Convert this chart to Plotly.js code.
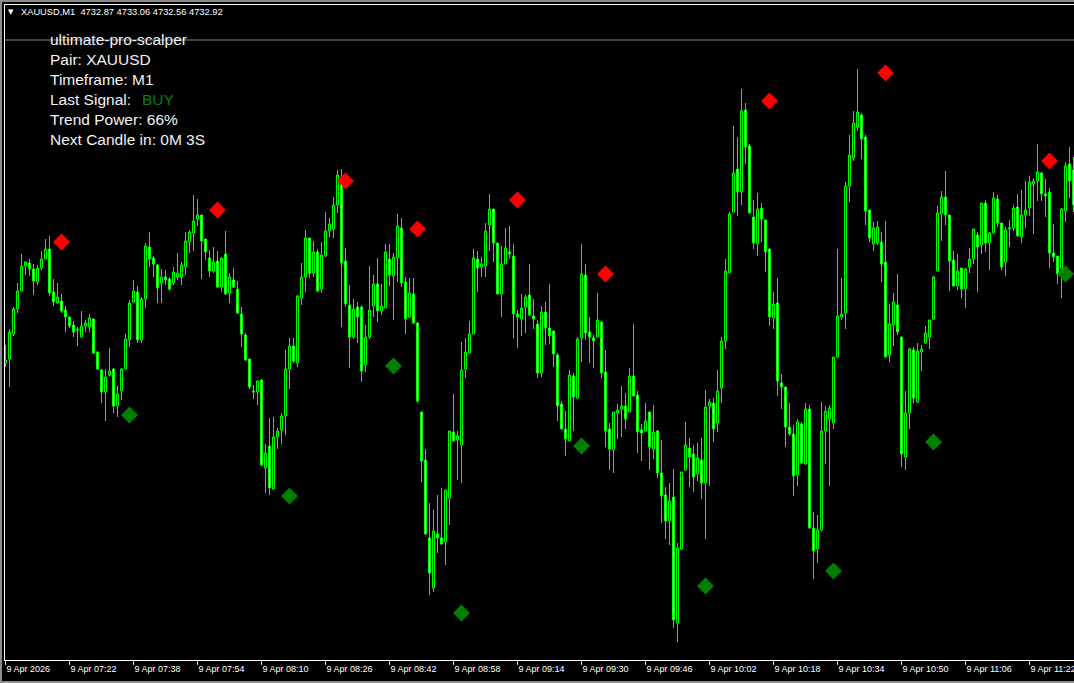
<!DOCTYPE html>
<html><head><meta charset="utf-8">
<script src="https://cdn.plot.ly/plotly-3.0.1.min.js"></script>
<style>
html,body{margin:0;padding:0;background:#000;overflow:hidden}
#wrap{position:relative;width:1074px;height:683px}
#chart{position:absolute;left:0;top:0;width:1074px;height:683px}
.fr{position:absolute;background:#8c8c8c}
</style></head><body>
<div id="wrap"><div id="chart"></div>
<div class="fr" style="left:0;top:0;width:1074px;height:2px"></div>
<div class="fr" style="left:0;top:0;width:2px;height:683px"></div>
<div class="fr" style="left:0;top:681px;width:1074px;height:2px"></div>
</div>
<script>
// ---- data (XAUUSD M1, 9 Apr 2026, bars from 07:06) ----
const open = [
4718.7,4719.1,4721.6,4724.1,4725.9,4728.4,4728.7,4728.1,4726.8,4728.2,
4729.1,4730.1,4725.8,4724.7,4724.9,4724.0,4723.3,4722.5,4722.1,4721.3,
4722.4,4722.3,4723.1,4719.8,4718.0,4715.8,4717.5,4718.1,4714.4,4715.9,
4718.1,4721.0,4724.8,4725.8,4721.0,4725.1,4730.3,4729.2,4728.5,4726.7,
4727.3,4727.1,4726.7,4727.3,4727.3,4728.3,4730.8,4731.7,4733.1,4733.5,
4731.1,4729.2,4727.9,4728.9,4726.3,4729.6,4725.7,4727.0,4726.1,4723.6,
4721.5,4719.1,4715.9,4715.8,4717.0,4708.2,4710.4,4706.1,4711.3,4712.0,
4713.4,4718.1,4720.4,4718.7,4725.2,4727.3,4731.2,4727.7,4729.8,4726.1,
4729.4,4731.9,4732.1,4734.5,4737.0,4728.9,4724.5,4721.3,4724.3,4724.3,
4718.5,4721.3,4724.4,4726.6,4723.9,4724.2,4729.1,4727.4,4729.2,4732.2,
4726.8,4723.3,4725.6,4722.7,4713.8,4709.0,4701.2,4696.2,4701.6,4701.2,
4700.8,4705.2,4711.8,4711.0,4710.5,4718.1,4719.7,4721.6,4729.1,4728.3,
4728.4,4732.5,4734.1,4730.7,4725.6,4728.6,4729.8,4729.4,4723.6,4723.1,
4724.3,4725.5,4723.4,4722.6,4717.7,4723.8,4722.2,4721.9,4719.5,4714.6,
4712.1,4710.9,4717.4,4715.2,4721.2,4727.5,4721.8,4721.2,4721.3,4722.8,
4717.8,4712.1,4710.0,4713.7,4714.1,4714.4,4713.8,4717.4,4715.5,4712.0,
4711.9,4713.8,4710.1,4711.9,4707.7,4705.5,4702.9,4705.3,4692.7,4700.1,
4708.0,4710.2,4709.6,4707.6,4709.0,4706.7,4714.4,4714.7,4712.7,4716.2,
4720.9,4727.7,4733.8,4738.1,4735.8,4744.0,4740.4,4733.3,4730.6,4734.2,
4733.0,4730.1,4723.2,4724.7,4716.7,4716.3,4712.3,4711.6,4707.5,4712.6,
4708.6,4714.1,4702.2,4700.1,4702.0,4711.9,4713.1,4712.7,4719.3,4723.3,
4723.7,4736.4,4739.2,4742.3,4743.5,4741.3,4734.0,4730.6,4730.7,4730.8,
4728.8,4719.5,4722.5,4724.5,4721.3,4709.3,4713.7,4720.0,4714.8,4719.8,
4720.7,4721.3,4723.1,4727.9,4733.6,4735.3,4733.5,4729.0,4726.4,4728.2,
4726.1,4728.3,4729.1,4731.5,4730.5,4734.7,4730.7,4731.7,4735.1,4732.7,
4728.8,4732.1,4732.2,4734.3,4731.3,4733.5,4734.2,4736.6,4736.9,4737.7,
4735.6,4735.8,4729.7,4729.4,4728.1,4733.9,4738.6,4738.0];
const high = [
4720.5,4722.1,4724.3,4726.7,4729.6,4728.9,4729.1,4728.6,4728.5,4729.9,
4731.1,4731.4,4727.1,4726.7,4725.6,4724.4,4723.3,4722.9,4722.3,4723.9,
4723.0,4723.6,4723.1,4719.9,4718.1,4718.1,4720.2,4718.2,4716.4,4718.2,
4721.6,4725.0,4727.0,4726.4,4725.3,4730.7,4731.8,4729.4,4728.6,4728.1,
4728.0,4727.3,4728.3,4729.7,4728.8,4731.8,4732.0,4735.5,4735.1,4733.5,
4731.1,4730.0,4730.3,4729.9,4729.3,4731.9,4727.7,4728.2,4726.9,4724.3,
4721.7,4719.1,4716.5,4717.0,4717.1,4710.6,4713.2,4713.3,4712.2,4713.7,
4720.0,4721.2,4721.2,4725.5,4728.7,4732.0,4731.2,4730.9,4730.1,4730.8,
4733.8,4733.2,4735.3,4738.0,4738.1,4730.2,4726.5,4725.1,4724.8,4724.5,
4722.5,4728.4,4727.5,4729.2,4726.6,4730.6,4730.6,4729.7,4733.6,4733.2,
4727.3,4727.2,4727.2,4722.8,4713.8,4710.1,4704.7,4704.0,4705.5,4706.2,
4706.0,4711.9,4715.6,4711.9,4720.8,4721.2,4722.9,4730.1,4729.9,4729.3,
4732.7,4735.6,4734.1,4730.7,4730.4,4732.2,4732.4,4730.6,4724.0,4725.6,
4725.5,4728.6,4725.1,4723.0,4724.4,4724.8,4726.6,4721.9,4719.7,4714.9,
4713.9,4718.0,4717.7,4721.3,4730.6,4728.6,4723.3,4721.5,4725.7,4722.8,
4720.0,4712.7,4713.8,4714.6,4716.4,4715.7,4718.2,4722.6,4715.9,4712.6,
4714.7,4713.8,4714.5,4712.0,4711.0,4706.3,4706.7,4708.1,4700.7,4707.8,
4712.8,4711.2,4710.5,4710.7,4711.2,4716.0,4715.1,4715.2,4718.0,4721.3,
4729.1,4733.8,4742.4,4741.3,4746.1,4744.7,4740.6,4735.0,4735.7,4734.7,
4733.0,4730.1,4725.8,4727.2,4717.6,4716.3,4714.7,4712.5,4713.1,4712.8,
4714.7,4714.5,4703.8,4703.5,4714.8,4714.4,4714.5,4719.3,4730.1,4727.2,
4736.8,4741.5,4743.9,4748.1,4743.7,4741.5,4734.0,4732.8,4732.9,4731.8,
4732.9,4724.6,4725.7,4727.6,4721.3,4715.9,4720.2,4720.3,4720.7,4720.5,
4722.4,4723.0,4727.4,4734.4,4735.9,4737.9,4733.5,4729.9,4729.6,4728.2,
4728.2,4730.2,4732.1,4731.8,4734.7,4735.0,4731.8,4735.8,4735.5,4732.7,
4732.3,4733.0,4734.5,4735.6,4736.0,4736.9,4737.4,4737.2,4740.6,4737.8,
4737.1,4736.2,4732.6,4729.4,4734.2,4738.8,4740.3,4739.3];
const low = [
4718.3,4716.3,4721.4,4723.7,4725.9,4727.5,4727.4,4725.5,4726.5,4728.0,
4729.1,4725.4,4724.4,4724.7,4723.7,4721.8,4722.2,4721.3,4720.4,4721.3,
4721.8,4721.8,4719.6,4718.0,4714.7,4712.9,4717.4,4713.7,4713.3,4715.0,
4718.0,4720.3,4724.7,4720.7,4720.7,4724.2,4728.3,4727.3,4724.7,4724.7,
4726.5,4725.9,4726.5,4727.0,4726.5,4727.5,4729.7,4729.9,4732.4,4727.1,
4729.0,4727.3,4727.7,4726.2,4725.8,4725.5,4724.7,4726.2,4723.6,4720.3,
4718.9,4716.1,4715.1,4714.5,4708.4,4705.7,4705.5,4706.0,4710.1,4710.6,
4711.5,4716.1,4718.7,4718.3,4724.5,4725.8,4727.2,4727.3,4725.8,4725.7,
4729.3,4731.3,4731.2,4733.7,4722.3,4724.3,4718.2,4721.1,4720.7,4716.8,
4717.8,4721.1,4723.3,4722.8,4723.5,4724.2,4726.4,4723.0,4726.8,4726.3,
4721.6,4723.2,4722.6,4714.7,4706.8,4701.5,4695.5,4695.8,4699.7,4700.5,
4698.5,4702.5,4710.9,4707.0,4706.7,4717.2,4719.6,4721.6,4725.8,4727.3,
4727.3,4729.9,4728.8,4725.6,4723.3,4728.6,4729.1,4721.2,4720.2,4721.4,
4721.7,4723.4,4722.1,4717.2,4717.3,4720.5,4720.6,4718.3,4712.9,4712.1,
4709.4,4710.9,4711.9,4715.1,4718.8,4721.0,4718.7,4718.2,4721.3,4717.2,
4710.3,4708.0,4707.7,4711.1,4711.3,4712.1,4713.8,4715.4,4709.7,4708.9,
4711.9,4708.0,4709.1,4707.2,4702.7,4701.1,4700.5,4692.2,4690.8,4700.0,
4707.9,4706.3,4705.8,4706.9,4705.1,4701.1,4706.4,4710.8,4711.8,4714.7,
4720.1,4727.7,4733.8,4733.4,4734.5,4738.6,4733.7,4730.1,4729.4,4730.8,
4727.8,4722.4,4722.1,4715.4,4714.1,4710.3,4711.4,4705.4,4706.4,4708.6,
4708.5,4702.1,4697.1,4698.7,4701.9,4708.6,4706.4,4712.1,4719.2,4723.0,
4722.1,4734.8,4738.9,4741.9,4739.1,4732.5,4730.8,4729.9,4730.5,4726.8,
4719.3,4718.8,4720.4,4721.5,4708.3,4708.0,4712.1,4714.7,4714.7,4717.9,
4720.6,4720.1,4723.0,4727.9,4730.9,4732.5,4725.9,4726.4,4726.0,4725.2,
4724.2,4727.7,4728.6,4725.8,4729.6,4729.8,4728.0,4731.7,4732.3,4728.0,
4727.4,4730.3,4731.9,4731.4,4730.7,4732.2,4733.4,4731.6,4734.9,4734.9,
4733.3,4728.2,4728.8,4726.6,4725.2,4732.8,4735.2,4733.8];
const close = [
4719.0,4721.8,4724.1,4725.9,4728.4,4728.8,4728.1,4726.9,4728.2,4729.1,
4730.1,4725.7,4724.8,4725.3,4723.9,4723.3,4722.4,4721.8,4722.0,4722.4,
4722.7,4723.2,4719.7,4718.1,4715.8,4717.3,4717.9,4714.4,4715.6,4718.1,
4721.1,4724.7,4725.9,4721.0,4725.1,4730.4,4729.1,4728.6,4726.2,4727.3,
4727.0,4726.1,4727.8,4727.7,4728.5,4730.9,4731.8,4732.9,4733.5,4730.9,
4729.8,4727.9,4728.8,4726.3,4729.2,4725.6,4727.3,4726.3,4723.7,4721.6,
4719.0,4716.3,4715.8,4716.9,4708.5,4709.7,4706.2,4711.3,4711.9,4713.4,
4718.1,4720.4,4718.9,4725.4,4727.3,4731.2,4727.7,4729.8,4725.9,4729.5,
4731.9,4732.6,4734.5,4737.5,4728.7,4724.6,4721.3,4724.1,4723.3,4717.9,
4721.3,4724.0,4726.6,4723.9,4724.4,4729.8,4727.5,4729.3,4732.4,4726.7,
4723.1,4725.7,4722.7,4714.9,4708.9,4701.6,4697.7,4701.9,4701.2,4700.6,
4706.0,4711.9,4710.9,4711.4,4718.0,4719.8,4721.6,4729.2,4728.2,4728.6,
4731.9,4734.1,4730.7,4725.6,4728.6,4730.2,4729.6,4723.6,4723.3,4724.2,
4725.3,4723.5,4723.1,4717.7,4723.8,4722.2,4721.4,4719.6,4714.4,4712.1,
4711.1,4717.5,4715.3,4721.1,4727.6,4721.7,4721.3,4720.9,4723.0,4717.7,
4711.9,4710.1,4713.8,4714.0,4714.4,4713.1,4717.4,4715.4,4711.8,4711.7,
4712.9,4710.3,4711.8,4707.7,4705.4,4702.9,4704.9,4693.0,4700.2,4707.8,
4710.5,4709.3,4707.3,4709.2,4706.7,4714.3,4714.8,4712.1,4715.9,4720.9,
4727.9,4733.6,4737.7,4735.8,4743.9,4740.3,4733.7,4730.7,4734.1,4733.1,
4729.8,4723.3,4724.6,4716.9,4716.3,4712.3,4711.6,4707.4,4712.8,4708.7,
4714.1,4702.2,4699.9,4702.0,4711.9,4713.9,4714.2,4719.3,4723.4,4723.6,
4736.4,4739.5,4742.7,4743.8,4741.1,4733.9,4731.2,4732.2,4732.3,4728.6,
4719.3,4722.6,4724.8,4721.8,4709.6,4713.7,4720.1,4715.2,4719.9,4720.1,
4721.7,4723.0,4727.3,4733.7,4735.3,4733.5,4728.9,4726.4,4727.9,4726.1,
4728.1,4729.1,4732.1,4730.3,4734.7,4730.7,4731.7,4735.2,4732.7,4728.3,
4732.0,4732.2,4734.2,4731.4,4733.5,4734.0,4736.8,4736.9,4737.8,4735.6,
4735.4,4729.7,4729.3,4727.6,4734.1,4738.4,4736.9,4734.5];

// indicator arrows (bar index, price)
const sellBar   = [14, 53, 85, 103, 128, 150, 191, 220, 261];
const sellPrice = [4730.8, 4734.0, 4736.9, 4732.1, 4735.0, 4727.6, 4744.9, 4747.7, 4738.9];
const buyBar    = [31, 71, 97, 114, 144, 175, 207, 232, 265];
const buyPrice  = [4713.5, 4705.4, 4718.4, 4693.7, 4710.4, 4696.4, 4697.9, 4710.8, 4727.6];

// time axis labels (every 16 bars)
const tickBars   = [0,16,32,48,64,80,96,112,128,144,160,176,192,208,224,240,256];
const tickLabels = ["9 Apr 2026","9 Apr 07:22","9 Apr 07:38","9 Apr 07:54","9 Apr 08:10",
  "9 Apr 08:26","9 Apr 08:42","9 Apr 08:58","9 Apr 09:14","9 Apr 09:30","9 Apr 09:46",
  "9 Apr 10:02","9 Apr 10:18","9 Apr 10:34","9 Apr 10:50","9 Apr 11:06","9 Apr 11:22"];

const headerText = "XAUUSD,M1\u00a0\u00a04732.87 4733.06 4732.56 4732.92";
const panelLines = ["ultimate-pro-scalper","Pair: XAUUSD","Timeframe: M1","Last Signal:","Trend Power: 66%","Next Candle in: 0M 3S"];
const lastSignal = "BUY";
const levelLine = 4751.0;

// ---- chart ----
const bars = open.map((_, i) => i);
const PL = 5, PT = 5, PW = 1069, PH = 655;
const pxX = x => (x - PL) / PW;
const pxY = y => (PT + PH - y) / PH;
const TXT = 'Liberation Sans, Arial, sans-serif';

const annotations = [
  {text: '\u25BC', x: pxX(10.5), y: pxY(12.5), xref: 'paper', yref: 'paper', xanchor: 'center', yanchor: 'middle',
   showarrow: false, font: {family: 'DejaVu Sans', size: 7, color: '#ffffff'}},
  {text: headerText, x: pxX(18.5), y: pxY(12.5), xref: 'paper', yref: 'paper', xanchor: 'left', yanchor: 'middle',
   showarrow: false, font: {family: TXT, size: 9.3, color: '#ffffff'}}
];
panelLines.forEach((t, k) => {
  annotations.push({text: t, x: pxX(48), y: pxY(40 + 19.9 * k), xref: 'paper', yref: 'paper',
    xanchor: 'left', yanchor: 'middle', showarrow: false, font: {family: TXT, size: 15.5, color: '#f2f2f2'}});
});
annotations.push({text: lastSignal, x: pxX(140), y: pxY(40 + 19.9 * 3), xref: 'paper', yref: 'paper',
  xanchor: 'left', yanchor: 'middle', showarrow: false, font: {family: TXT, size: 15.5, color: '#0a800a'}});

const data = [
  {type: 'candlestick', x: bars, open: open, high: high, low: low, close: close,
   increasing: {line: {color: '#00ff00', width: 1}, fillcolor: '#000000'},
   decreasing: {line: {color: '#00ff00', width: 1}, fillcolor: '#ffffff'},
   whiskerwidth: 0, hoverinfo: 'skip', showlegend: false},
  {type: 'scatter', mode: 'markers', x: sellBar, y: sellPrice, hoverinfo: 'skip', showlegend: false,
   marker: {symbol: 'diamond', size: 13, color: '#ff0000', line: {width: 0}}},
  {type: 'scatter', mode: 'markers', x: buyBar, y: buyPrice, hoverinfo: 'skip', showlegend: false,
   marker: {symbol: 'diamond', size: 13, color: '#007f00', line: {width: 0}}}
];

const layout = {
  width: 1074, height: 683,
  margin: {l: PL, r: 0, t: PT, b: 683 - PT - PH},
  paper_bgcolor: '#000000', plot_bgcolor: '#000000',
  showlegend: false, dragmode: false, boxgap: 0.3,
  xaxis: {range: [-0.125, 267.125], tickvals: tickBars, ticktext: tickLabels,
    ticks: 'outside', ticklen: 4, tickwidth: 1, tickcolor: '#d0d0d0',
    ticklabelposition: 'outside right', ticklabeloverflow: 'allow',
    tickfont: {family: TXT, size: 9, color: '#ffffff'},
    showgrid: false, zeroline: false, showline: true, linecolor: '#ffffff', linewidth: 1, mirror: true,
    rangeslider: {visible: false}, fixedrange: true},
  yaxis: {range: [4689.0, 4754.5], showticklabels: false, ticks: '', showgrid: false, zeroline: false,
    showline: true, linecolor: '#ffffff', linewidth: 1, fixedrange: true},
  shapes: [{type: 'line', xref: 'paper', x0: 0, x1: 1, yref: 'y', y0: levelLine, y1: levelLine,
    line: {color: '#778899', width: 1}, layer: 'below'}],
  annotations: annotations
};

Plotly.newPlot('chart', data, layout, {displayModeBar: false, staticPlot: true});
</script>
</body></html>
